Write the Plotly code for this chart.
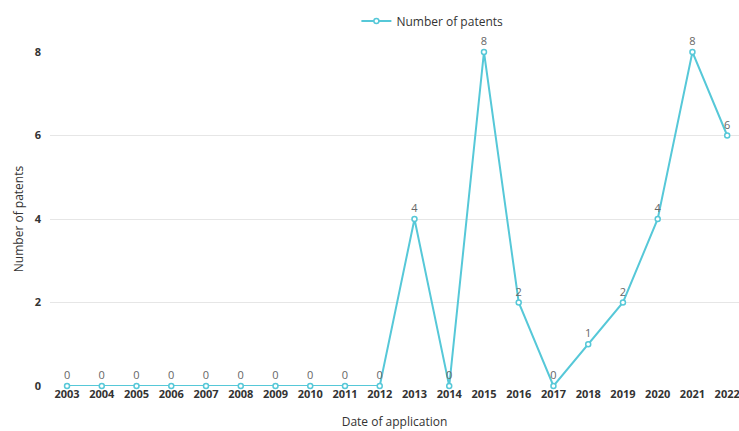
import plotly.graph_objects as go

years = [str(y) for y in range(2003, 2023)]
patents = [0, 0, 0, 0, 0, 0, 0, 0, 0, 0, 4, 0, 8, 2, 0, 1, 2, 4, 8, 6]
y_ticks = [0, 2, 4, 6, 8]

color = "#56C8D8"
fig = go.Figure()
fig.add_trace(go.Scatter(
    x=years, y=patents, mode="lines+markers+text", name="Number of patents",
    line=dict(color=color, width=2),
    marker=dict(symbol="circle", size=5, color="white", line=dict(color=color, width=1.5)),
    text=[str(v) for v in patents], textposition="top center",
    textfont=dict(family="Open Sans", size=11, color="#666666"),
    cliponaxis=False,
))
fig.update_layout(
    width=739, height=431,
    margin=dict(l=50, r=0, t=52, b=45),
    paper_bgcolor="white", plot_bgcolor="white",
    font=dict(family="Open Sans", color="#333333"),
    showlegend=True,
    legend=dict(orientation="h", x=0.555, xanchor="center", y=0.985, yanchor="top",
                yref="container", font=dict(size=12, color="#333333"),
                itemwidth=30),
    xaxis=dict(type="category", range=[-0.49, 19.34], showgrid=False,
               tickfont=dict(size=11, color="#333333", weight="bold"),
               ticks="", showline=False, zeroline=False,
               title=dict(text="Date of application", font=dict(size=12, color="#333333"), standoff=17)),
    yaxis=dict(range=[0, 8], tickvals=y_ticks, showgrid=True, gridcolor="#e6e6e6", gridwidth=1,
               zeroline=False, showline=False, ticks="", ticklabelstandoff=8,
               tickfont=dict(size=11, color="#333333", weight="bold"),
               title=dict(text="Number of patents", font=dict(size=12, color="#333333"), standoff=8)),
)
fig.write_html("out.html")
